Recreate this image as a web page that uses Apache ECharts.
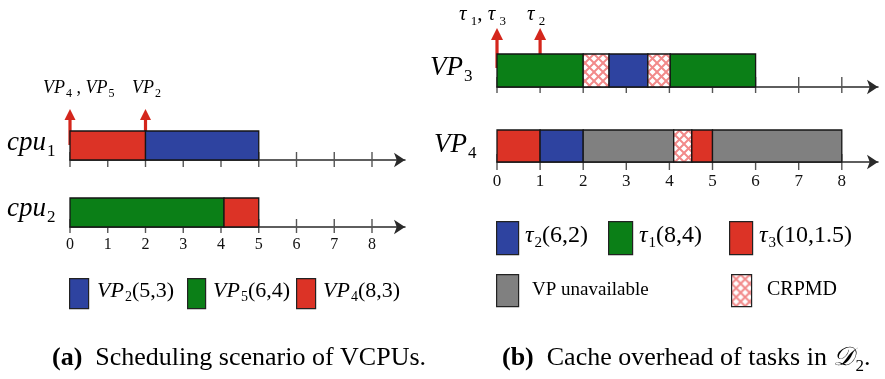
<!DOCTYPE html>
<html><head><meta charset="utf-8">
<script src="https://cdn.jsdelivr.net/npm/echarts@6/dist/echarts.min.js"></script>
<style>html,body{margin:0;padding:0;background:#fff}#c{width:885px;height:379px}</style>
</head><body><div id="c"></div>
<script>
// ---- data ----
const timeTicks = [0, 1, 2, 3, 4, 5, 6, 7, 8];
const cpu1Segments = [[0, 2, 'VP4'], [2, 5, 'VP2']];
const cpu2Segments = [[0, 4.08, 'VP5'], [4.08, 5, 'VP4']];
const vp3Segments = [[0, 2, 'tau1'], [2, 2.6, 'crpmd'], [2.6, 3.5, 'tau2'], [3.5, 4.02, 'crpmd'], [4.02, 6, 'tau1']];
const vp4Segments = [[0, 1, 'tau3'], [1, 2, 'tau2'], [2, 4.1, 'unavail'], [4.1, 4.52, 'crpmd'], [4.52, 5, 'tau3'], [5, 8, 'unavail']];
const vcpuReleases = [0, 2];
const taskReleases = [0, 1];

// ---- styles ----
function makePattern() {
  const s = 9, c = document.createElement('canvas');
  c.width = s; c.height = s;
  const g = c.getContext('2d');
  g.fillStyle = '#ffffff'; g.fillRect(0, 0, s, s);
  g.strokeStyle = '#F28A8A'; g.lineWidth = 2;
  g.beginPath();
  g.moveTo(-1, -1); g.lineTo(s + 1, s + 1);
  g.moveTo(s + 1, -1); g.lineTo(-1, s + 1);
  g.stroke();
  return c;
}
const patternCanvas = makePattern();
const crpmdFill = { image: patternCanvas, repeat: 'repeat' };
const BLUE = '#2E43A0', GREEN = '#0B7F17', RED = '#DC3326', GRAY = '#808080', ARROW = '#D4261C';
const fills = { VP2: BLUE, VP5: GREEN, VP4: RED, tau2: BLUE, tau1: GREEN, tau3: RED, unavail: GRAY, crpmd: crpmdFill };
const SERIF = 'Liberation Serif';

const L_UNIT = 37.75, R_UNIT = 43.1;
const grids = [
  { left: 70, top: 131, width: 335, height: 29 },
  { left: 70, top: 198, width: 335, height: 29 },
  { left: 497, top: 54, width: 381, height: 33 },
  { left: 497, top: 130, width: 381, height: 32 }
];
const maxes = [335 / L_UNIT, 335 / L_UNIT, 381 / R_UNIT, 381 / R_UNIT];

function xAx(gi, showLabels, fs, margin) {
  return {
    type: 'value', gridIndex: gi, min: 0, max: maxes[gi], interval: 1,
    splitLine: { show: false },
    axisLine: { show: true, onZero: false, symbol: ['none', 'arrow'], symbolSize: [11, 11],
      lineStyle: { color: '#2a2a2a', width: 1.5 } },
    axisTick: { show: false },
    axisLabel: { show: showLabels, customValues: timeTicks, fontFamily: SERIF, fontSize: fs, color: '#111', margin: margin }
  };
}
function yAx(gi) { return { type: 'value', gridIndex: gi, min: 0, max: 1, show: false }; }

function tickSeries(gi, up, down) {
  return {
    type: 'custom', xAxisIndex: gi, yAxisIndex: gi, z: 1, clip: false, silent: true,
    data: timeTicks.map(t => [t, 0]),
    renderItem: (params, api) => {
      const p = api.coord([api.value(0), 0]);
      return { type: 'line', shape: { x1: p[0], y1: p[1] - up, x2: p[0], y2: p[1] + down },
        style: { stroke: '#555', lineWidth: 1.4 } };
    }
  };
}
function barSeries(gi, segs) {
  return {
    type: 'custom', xAxisIndex: gi, yAxisIndex: gi, z: 3, clip: false, silent: true,
    data: segs.map(d => [d[0], d[1]]),
    renderItem: (params, api) => {
      const a = api.coord([api.value(0), 1]);
      const b = api.coord([api.value(1), 0]);
      const kind = segs[params.dataIndex][2];
      return { type: 'rect', shape: { x: a[0], y: a[1], width: b[0] - a[0], height: b[1] - a[1] },
        style: { fill: fills[kind], stroke: '#151515', lineWidth: 1.3 } };
    }
  };
}
function arrowSeries(gi, times, up, depth, headH, headW) {
  return {
    type: 'custom', xAxisIndex: gi, yAxisIndex: gi, z: 2, clip: false, silent: true,
    data: times.map(t => [t, 1]),
    renderItem: (params, api) => {
      const p = api.coord([api.value(0), 1]);
      const tip = p[1] - up;
      return { type: 'group', children: [
        { type: 'rect', shape: { x: p[0] - 1.6, y: tip + headH - 1, width: 3.2, height: up - headH + 1 + depth },
          style: { fill: ARROW } },
        { type: 'polygon', shape: { points: [[p[0], tip], [p[0] - headW / 2, tip + headH], [p[0] + headW / 2, tip + headH]] },
          style: { fill: ARROW } }
      ] };
    }
  };
}

function richStyles(F) {
  return {
    i: { fontFamily: SERIF, fontStyle: 'italic', fontSize: F, color: '#111' },
    n: { fontFamily: SERIF, fontSize: F, color: '#111' },
    b: { fontFamily: SERIF, fontWeight: 'bold', fontSize: F, color: '#111' },
    t: { fontFamily: SERIF, fontStyle: 'italic', fontSize: F, color: '#111' },
    s: { fontFamily: SERIF, fontSize: Math.round(F * 0.64), color: '#111', padding: [Math.round(F * 0.6), 0, 0, 1] }
  };
}
function label(x, y, text, F) {
  return { type: 'text', left: x, top: y - 0.6 * F, silent: true, z: 10,
    style: { text: text, rich: richStyles(F), align: 'left', verticalAlign: 'top' } };
}
function box(x, y, w, h, fill) {
  return { type: 'rect', left: x, top: y, silent: true, z: 10, shape: { width: w, height: h },
    style: { fill: fill, stroke: '#222', lineWidth: 1.2 } };
}

const graphics = [
  // panel labels
  label(7, 146, '{i|cpu}{s|1}', 27),
  label(7, 212, '{i|cpu}{s|2}', 27),
  label(430, 71, '{i|VP}{s|3}', 27),
  label(434, 148, '{i|VP}{s|4}', 27),
  // release labels
  label(43, 90, '{i|VP}{s|4}{n| , }{i|VP}{s|5}', 18),
  label(132, 90, '{i|VP}{s|2}', 18),
  label(459, 17, '{t|τ}{s| 1}{n|, }{t|τ}{s| 3}', 21),
  label(527, 17, '{t|τ}{s| 2}', 21),
  // left legend
  box(69, 278, 19, 30, BLUE), label(97, 293, '{i|VP}{s|2}{n|(5,3)}', 22),
  box(187, 278, 18, 30, GREEN), label(213, 293, '{i|VP}{s|5}{n|(6,4)}', 22),
  box(296, 278, 19, 30, RED), label(323, 293, '{i|VP}{s|4}{n|(8,3)}', 22),
  // right legend
  box(496, 221, 22, 33, BLUE), label(525, 238, '{t|τ}{s|2}{n|(6,2)}', 24),
  box(608, 221, 24, 33, GREEN), label(639, 238, '{t|τ}{s|1}{n|(8,4)}', 24),
  box(729, 221, 23, 33, RED), label(759, 238, '{t|τ}{s|3}{n|(10,1.5)}', 24),
  box(496, 274, 22, 32, GRAY), label(532, 292, '{n|VP unavailable}', 19),
  box(731, 274, 20, 32, crpmdFill), label(767, 292, '{n|CRPMD}', 20),
  // captions
  label(52, 361, '{b|(a)}{n|  Scheduling scenario of VCPUs.}', 26),
  label(502, 361, '{b|(b)}{n|  Cache overhead of tasks in }{i|𝒟}{s|2}{n|.}', 26)
];

const chart = echarts.init(document.getElementById('c'), null, { renderer: 'canvas' });
chart.setOption({
  animation: false,
  backgroundColor: '#ffffff',
  grid: grids,
  xAxis: [xAx(0, false, 16, 10), xAx(1, true, 16, 10), xAx(2, false, 17, 11), xAx(3, true, 17, 11)],
  yAxis: [yAx(0), yAx(1), yAx(2), yAx(3)],
  series: [
    tickSeries(0, 8, 7), tickSeries(1, 8, 6), tickSeries(2, 10, 6), tickSeries(3, 8, 8),
    barSeries(0, cpu1Segments), barSeries(1, cpu2Segments), barSeries(2, vp3Segments), barSeries(3, vp4Segments),
    arrowSeries(0, vcpuReleases, 22, 14, 11, 11),
    arrowSeries(2, taskReleases, 26, 14, 12, 12)
  ],
  graphic: graphics
});
</script>
</body></html>
